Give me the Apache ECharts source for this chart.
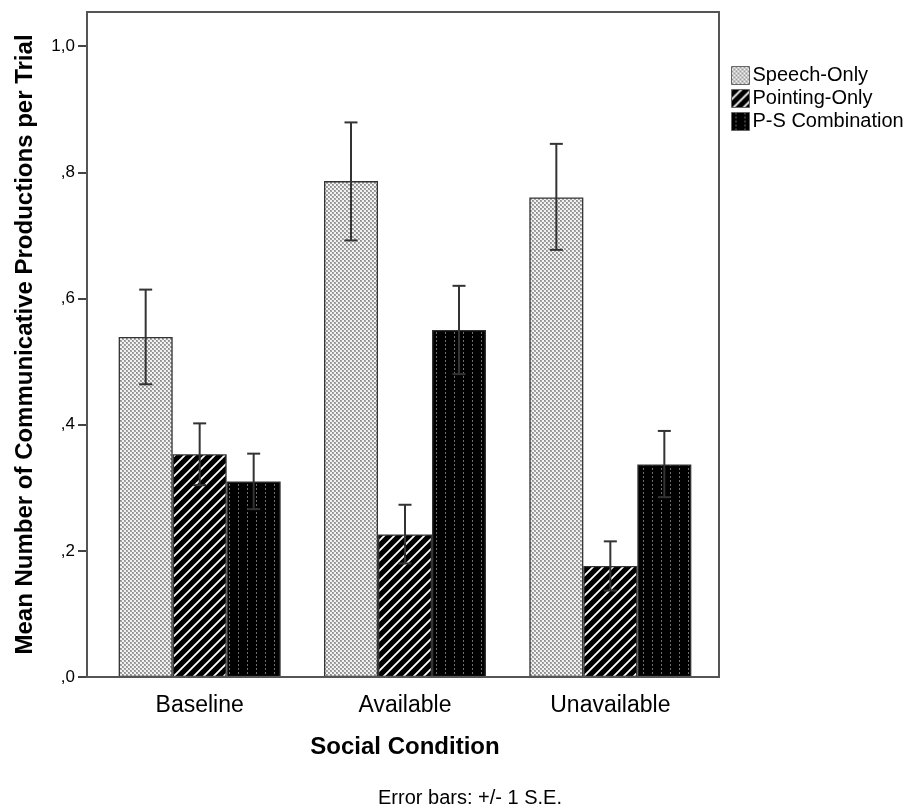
<!DOCTYPE html>
<html>
<head>
<meta charset="utf-8">
<script src="https://cdn.jsdelivr.net/npm/echarts@6/dist/echarts.min.js"></script>
<style>
  html, body { margin: 0; padding: 0; background: #fff; }
  #main { width: 911px; height: 809px; }
</style>
</head>
<body>
<div id="main"></div>
<script>
const categories = ['Baseline', 'Available', 'Unavailable']
const seriesNames = ['Speech-Only', 'Pointing-Only', 'P-S Combination']

// means per social condition
const speechOnly = [0.539, 0.786, 0.760]
const pointingOnly = [0.353, 0.226, 0.176]
const psCombination = [0.310, 0.550, 0.337]

// +/- 1 S.E. (low, high)
const speechErr = [[0.464, 0.614], [0.692, 0.879], [0.677, 0.845]]
const pointingErr = [[0.304, 0.402], [0.180, 0.273], [0.137, 0.215]]
const comboErr = [[0.266, 0.354], [0.480, 0.620], [0.285, 0.390]]

const yTicks = [0, 0.2, 0.4, 0.6, 0.8, 1.0]

// --- fill patterns ---
function makeTile(w, h, draw) {
  const c = document.createElement('canvas')
  c.width = w
  c.height = h
  draw(c.getContext('2d'))
  return c
}
const dotTile = makeTile(4, 4, ctx => {
  ctx.fillStyle = '#f2f2f2'
  ctx.fillRect(0, 0, 4, 4)
  ctx.fillStyle = '#a4a4a4'
  ctx.fillRect(0, 0, 2, 2)
  ctx.fillRect(2, 2, 2, 2)
  ctx.fillStyle = '#8a8a8a'
  ctx.fillRect(0, 0, 1, 1)
  ctx.fillRect(2, 2, 1, 1)
})
const stripeTile = makeTile(10, 10, ctx => {
  ctx.fillStyle = '#000'
  ctx.fillRect(0, 0, 10, 10)
  ctx.strokeStyle = '#fff'
  ctx.lineWidth = 1.8
  ctx.beginPath()
  ctx.moveTo(-2, 12); ctx.lineTo(12, -2)
  ctx.moveTo(-7, 7); ctx.lineTo(7, -7)
  ctx.moveTo(3, 17); ctx.lineTo(17, 3)
  ctx.stroke()
})
const comboTile = makeTile(9, 4, ctx => {
  ctx.fillStyle = '#000'
  ctx.fillRect(0, 0, 9, 4)
  ctx.fillStyle = '#707070'
  ctx.fillRect(4, 0, 1, 2)
})
const fills = [
  { image: dotTile, repeat: 'repeat' },
  { image: stripeTile, repeat: 'repeat' },
  { image: comboTile, repeat: 'repeat' }
]

const means = [speechOnly, pointingOnly, psCombination]
const errs = [speechErr, pointingErr, comboErr]
const BAR_W = 54

const series = []
means.forEach((vals, k) => {
  series.push({
    name: seriesNames[k],
    type: 'bar',
    barWidth: BAR_W,
    barGap: '0%',
    data: vals,
    itemStyle: { color: fills[k], borderColor: '#333', borderWidth: 1.3 }
  })
})
errs.forEach((list, k) => {
  series.push({
    type: 'custom',
    z: 5,
    silent: true,
    data: list.map((e, i) => [i, e[0], e[1]]),
    renderItem(params, api) {
      const off = (k - 1) * BAR_W
      const lo = api.coord([api.value(0), api.value(1)])
      const hi = api.coord([api.value(0), api.value(2)])
      const x = lo[0] + off
      const cap = 6.5
      const style = { stroke: '#333', lineWidth: 2 }
      return {
        type: 'group',
        children: [
          { type: 'line', shape: { x1: x, y1: lo[1], x2: x, y2: hi[1] }, style },
          { type: 'line', shape: { x1: x - cap, y1: hi[1], x2: x + cap, y2: hi[1] }, style },
          { type: 'line', shape: { x1: x - cap, y1: lo[1], x2: x + cap, y2: lo[1] }, style }
        ]
      }
    }
  })
})

const chart = echarts.init(document.getElementById('main'))
const option = {
  animation: false,
  backgroundColor: '#fff',
  textStyle: { fontFamily: 'Liberation Sans, Arial, sans-serif' },
  grid: { left: 97, top: 12, right: 198, bottom: 132 },
  legend: {
    data: seriesNames,
    orient: 'vertical',
    left: 726,
    top: 59,
    icon: 'rect',
    itemWidth: 18,
    itemHeight: 18,
    itemGap: 0,
    itemStyle: { borderColor: '#666', borderWidth: 1 },
    textStyle: { fontSize: 20, color: '#000', lineHeight: 23, padding: [0, 0, 0, -2] }
  },
  xAxis: {
    type: 'category',
    data: categories,
    name: 'Social Condition',
    nameLocation: 'middle',
    nameGap: 58,
    nameTextStyle: { fontSize: 24, fontWeight: 'bold', color: '#000' },
    axisLine: { show: false },
    axisTick: { alignWithLabel: true, length: 9, lineStyle: { color: '#444', width: 2 } },
    axisLabel: { fontSize: 23, color: '#000', margin: 17 }
  },
  yAxis: {
    type: 'value',
    min: 0,
    max: 1.054,
    interval: 0.2,
    offset: 10,
    name: 'Mean Number of Communicative Productions per Trial',
    nameLocation: 'middle',
    nameGap: 50,
    nameRotate: 90,
    nameTextStyle: { fontSize: 24, fontWeight: 'bold', color: '#000' },
    splitLine: { show: false },
    axisLine: { show: true, lineStyle: { color: '#444', width: 2 } },
    axisTick: { show: true, length: 9, customValues: yTicks, lineStyle: { color: '#444', width: 2 } },
    axisLabel: {
      fontSize: 17, color: '#000', margin: 12, customValues: yTicks,
      formatter: v => v.toFixed(1).replace('.', ',').replace(/^0/, '')
    }
  },
  graphic: [
    {
      type: 'rect',
      shape: { x: 87, y: 12, width: 632, height: 665 },
      style: { fill: 'none', stroke: '#555', lineWidth: 2 },
      z: 10,
      silent: true
    },
    {
      type: 'text',
      x: 470,
      y: 798,
      style: {
        text: 'Error bars: +/- 1 S.E.',
        font: '20px Liberation Sans, Arial, sans-serif',
        fill: '#000',
        align: 'center',
        verticalAlign: 'middle'
      }
    }
  ],
  series
}
chart.setOption(option)
</script>
</body>
</html>
